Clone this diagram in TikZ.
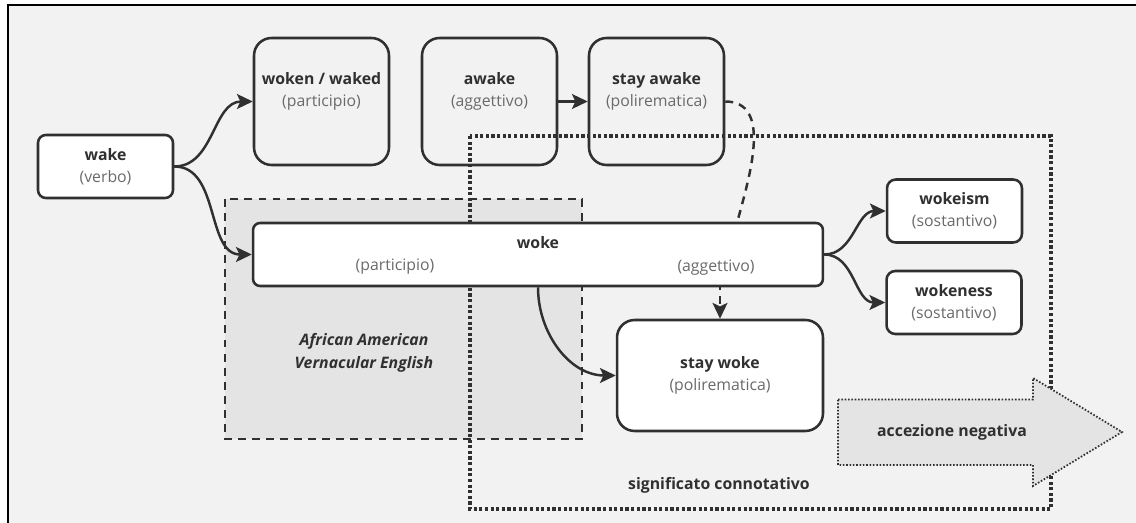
\documentclass[tikz,border=0pt]{standalone}
\usepackage{fontspec}
\setmainfont{Open Sans}
\usetikzlibrary{positioning,arrows.meta}
\definecolor{bg}{HTML}{F2F2F2}
\definecolor{zone}{HTML}{E4E4E4}
\definecolor{ink}{HTML}{303030}
\definecolor{soft}{HTML}{6A6A6A}

\begin{document}
\begin{tikzpicture}[x=0.02cm, y=-0.02cm,
    every node/.style={font=\fontsize{9pt}{12.8pt}\selectfont, align=center,
                       text=ink, inner sep=0pt},
    term/.style={rectangle, draw=ink, line width=1.45pt, rounded corners=5pt,
                 fill=white, minimum width=2.7cm, minimum height=1.26cm},
    tall/.style={term, fill=none, rounded corners=10pt, minimum height=2.54cm},
    arr/.style={-{Stealth[length=9pt, width=8.5pt, inset=2pt]}, line width=1.4pt, ink},
    dsh/.style={line width=1.4pt, ink, dash pattern=on 4.5pt off 3.5pt},
    dots/.style={line width=2pt, ink, dash pattern=on 1.8pt off 1.4pt},
    fine/.style={line width=1pt, ink, dash pattern=on 0.9pt off 1pt},
  ]
  \useasboundingbox (0,0) rectangle (1136,523);
  % Grey sheet, framed on the top and left only.
  \fill[bg] (8,5) rectangle (1136,523);
  \draw[line width=1.7pt, black] (8,523) -- (8,5) -- (1136,5);
  % The two areas sit under the boxes: the dialect one and the connotation one.
  \draw[dsh, fill=zone] (225,199) rectangle (582,439);
  \node (aave) at (364,353) {\textbf{\textit{African American}}\\
    \textbf{\textit{Vernacular English}}};
  \draw[dots] (470,136) rectangle (1051,509);
  \node (sig) at (719,485) {\textbf{significato connotativo}};
  % Top row: open boxes, text set a little above the middle.
  \node[term, rounded corners=4.5pt] (wake) at (105.5,166.5)
    {\textbf{wake}\\\textcolor{soft}{(verbo)}};
  \node[tall] (woken) at (321.5,101.5) {};
  \node[yshift=0.2cm] (woken-t) at (woken)
    {\textbf{woken / waked}\\\textcolor{soft}{(participio)}};
  \node[tall] (awake) at (489.5,101.5) {};
  \node[yshift=0.2cm] (awake-t) at (awake)
    {\textbf{awake}\\\textcolor{soft}{(aggettivo)}};
  \node[tall] (sawake) at (656.5,101.5) {};
  \node[yshift=0.2cm] (sawake-t) at (sawake)
    {\textbf{stay awake}\\\textcolor{soft}{(polirematica)}};
  % The long woke box carries both of its uses.
  \node[term, minimum width=11.4cm, rounded corners=4pt] (woke) at (538,254.5) {};
  \node (woke-t) at (538,243) {\textbf{woke}};
  \node (woke-p) at (395,267) {\textcolor{soft}{(participio)}};
  \node (woke-a) at (716,268) {\textcolor{soft}{(aggettivo)}};
  \node[term] (wokeism) at (954.5,211)
    {\textbf{wokeism}\\\textcolor{soft}{(sostantivo)}};
  \node[term] (wokeness) at (954,302.5)
    {\textbf{wokeness}\\\textcolor{soft}{(sostantivo)}};
  \node[term, minimum width=4.12cm, minimum height=2.22cm, rounded corners=10pt]
    (swoke) at (720,375.5) {\textbf{stay woke}\\\textcolor{soft}{(polirematica)}};
  % Big dotted arrow over the right edge of the dotted area.
  \fill[zone] (838,399.5) -- (1033,399.5) -- (1033,378) -- (1122,432)
    -- (1033,486) -- (1033,465) -- (838,465) -- cycle;
  \draw[fine] (838,399.5) -- (1033,399.5) -- (1033,378) -- (1122,432)
    -- (1033,486) -- (1033,465) -- (838,465) -- cycle;
  \node (neg) at (952,432) {\textbf{accezione negativa}};
  % Connectors.
  \coordinate (hook) at (737,223);
  \draw[arr] (wake.east) to[out=0, in=180] (woken.west);
  \draw[arr] (wake.east) to[out=0, in=180] (woke.west);
  \draw[arr] (awake) -- (sawake);
  \draw[dsh] (sawake.east) to[out=0, in=75] (hook);
  \draw[arr, dsh, dash phase=3pt] (woke.south -| swoke.north) -- (swoke.north);
  \draw[arr] (woke.south) to[out=-90, in=180] (swoke.west);
  \draw[arr] (woke.east) to[out=0, in=180] (wokeism.west);
  \draw[arr] (woke.east) to[out=0, in=180] (wokeness.west);
\end{tikzpicture}
\end{document}
